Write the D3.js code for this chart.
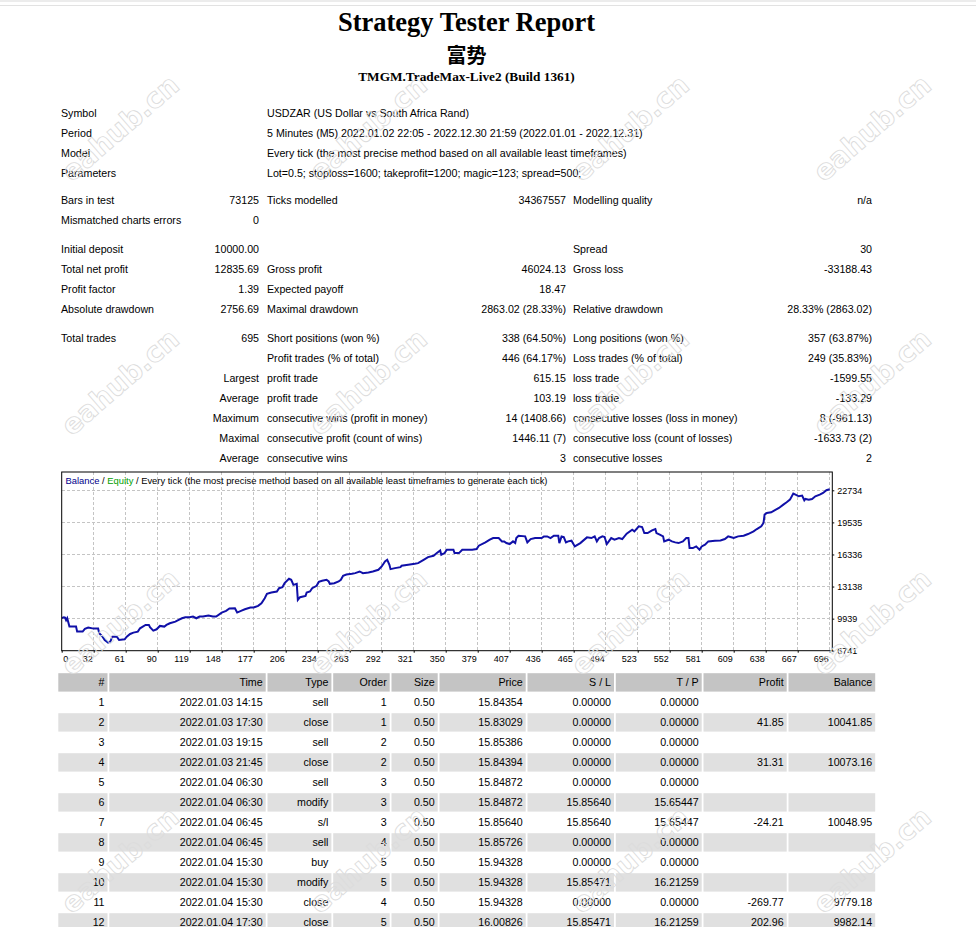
<!DOCTYPE html>
<html>
<head>
<meta charset="utf-8">
<script src="https://cdn.jsdelivr.net/npm/d3@7"></script>
<style>
  body { margin: 0; background: #fff; }
  svg { display: block; }
</style>
</head>
<body>
<div id="page"></div>
<script>
// ---------- data ----------
const reportTitle = "Strategy Tester Report";
const eaName = "富势";
const serverName = "TMGM.TradeMax-Live2 (Build 1361)";

const infoRows = [
  ["Symbol", "", "USDZAR (US Dollar vs South Africa Rand)"],
  ["Period", "", "5 Minutes (M5) 2022.01.02 22:05 - 2022.12.30 21:59 (2022.01.01 - 2022.12.31)"],
  ["Model", "", "Every tick (the most precise method based on all available least timeframes)"],
  ["Parameters", "", "Lot=0.5; stoploss=1600; takeprofit=1200; magic=123; spread=500;"]
];
const testRows = [
  ["Bars in test", "73125", "Ticks modelled", "34367557", "Modelling quality", "n/a"],
  ["Mismatched charts errors", "0", "", "", "", ""]
];
const moneyRows = [
  ["Initial deposit", "10000.00", "", "", "Spread", "30"],
  ["Total net profit", "12835.69", "Gross profit", "46024.13", "Gross loss", "-33188.43"],
  ["Profit factor", "1.39", "Expected payoff", "18.47", "", ""],
  ["Absolute drawdown", "2756.69", "Maximal drawdown", "2863.02 (28.33%)", "Relative drawdown", "28.33% (2863.02)"]
];
const tradeStatRows = [
  ["Total trades", "695", "Short positions (won %)", "338 (64.50%)", "Long positions (won %)", "357 (63.87%)"],
  ["", "", "Profit trades (% of total)", "446 (64.17%)", "Loss trades (% of total)", "249 (35.83%)"],
  ["", "Largest", "profit trade", "615.15", "loss trade", "-1599.55"],
  ["", "Average", "profit trade", "103.19", "loss trade", "-133.29"],
  ["", "Maximum", "consecutive wins (profit in money)", "14 (1408.66)", "consecutive losses (loss in money)", "8 (-961.13)"],
  ["", "Maximal", "consecutive profit (count of wins)", "1446.11 (7)", "consecutive loss (count of losses)", "-1633.73 (2)"],
  ["", "Average", "consecutive wins", "3", "consecutive losses", "2"]
];

const chartTitleParts = ["Balance", " / ", "Equity", " / Every tick (the most precise method based on all available least timeframes to generate each tick)"];
const xTickLabels = [0, 32, 61, 90, 119, 148, 177, 206, 234, 263, 292, 321, 350, 379, 407, 436, 465, 494, 523, 552, 581, 609, 638, 667, 696];
const yTickValues = [6741, 9939, 13138, 16336, 19535, 22734];

// balance after trade N
const balanceTrade = [0, 1, 2, 3, 4, 5, 7, 13, 14, 19, 21, 24, 29, 33, 34, 37, 39, 42, 44, 46, 50, 52, 57, 59, 62, 65, 69, 71, 76, 79, 80, 83, 86, 89, 93, 95, 98, 103, 106, 109, 112, 116, 119, 122, 125, 128, 133, 137, 140, 145, 149, 152, 157, 159, 163, 166, 171, 174, 178, 181, 184, 186, 190, 195, 197, 200, 202, 206, 208, 210, 213, 214, 216, 221, 222, 225, 227, 231, 233, 236, 240, 242, 243, 247, 251, 253, 255, 258, 263, 266, 270, 273, 278, 282, 287, 290, 293, 295, 297, 298, 302, 307, 308, 314, 320, 323, 328, 332, 337, 340, 343, 344, 347, 349, 355, 356, 360, 363, 367, 372, 376, 378, 384, 388, 391, 396, 399, 401, 403, 406, 409, 411, 412, 414, 420, 422, 425, 429, 435, 437, 440, 443, 446, 450, 451, 453, 455, 457, 459, 462, 465, 470, 476, 480, 483, 485, 487, 490, 492, 494, 498, 501, 505, 508, 512, 517, 519, 523, 526, 528, 531, 535, 538, 539, 542, 545, 546, 550, 553, 556, 559, 563, 566, 568, 569, 572, 575, 578, 580, 583, 586, 592, 597, 601, 604, 606, 609, 613, 618, 622, 627, 630, 634, 636, 637, 639, 643, 646, 650, 654, 657, 660, 663, 665, 668, 671, 673, 674, 677, 680, 683, 687, 690, 693, 696];
const balanceValue = [10000, 10042, 10073, 10049, 9779, 9982, 9143, 9143, 8644, 8644, 8910, 9043, 8943, 8943, 8477, 8144, 7811, 7544, 7644, 8144, 8144, 7811, 7877, 8144, 8410, 8544, 8644, 8977, 9310, 9310, 9077, 8744, 8877, 9210, 9143, 9310, 9477, 9643, 9810, 9976, 10076, 10076, 10143, 9976, 10143, 10143, 10243, 10143, 10143, 10543, 10709, 10943, 10976, 10543, 10743, 10876, 11043, 11043, 11209, 11476, 11976, 12409, 12542, 12642, 12975, 13075, 13475, 13908, 13808, 13308, 13408, 11809, 12076, 12209, 12542, 12642, 12975, 13208, 13600, 13708, 13808, 13642, 13408, 13475, 13642, 13808, 14208, 14341, 14408, 14475, 14641, 14475, 14541, 14641, 14808, 15141, 15641, 15807, 15308, 14874, 14974, 15074, 15208, 15308, 15408, 15474, 15807, 16074, 16207, 16474, 16740, 16307, 16474, 16807, 16807, 16474, 16474, 16807, 16807, 16807, 16874, 17207, 17540, 17807, 17973, 17973, 17640, 17640, 17473, 17373, 17640, 17473, 17973, 18206, 18140, 17540, 17873, 17973, 17973, 18140, 18140, 17973, 18206, 18206, 17473, 18140, 18073, 17540, 17640, 17707, 17140, 17473, 18040, 17973, 18140, 17640, 17973, 18140, 18073, 17373, 17973, 17807, 17973, 17873, 18406, 18806, 18640, 19139, 19073, 18473, 18473, 18740, 18873, 18473, 18306, 18140, 17640, 17807, 17640, 17540, 17473, 17640, 17973, 17973, 16974, 16974, 17140, 16807, 17140, 17307, 17640, 17707, 17740, 17873, 18140, 18073, 17973, 18140, 18206, 18373, 18640, 18873, 19139, 19473, 20306, 20472, 20539, 20739, 20972, 21305, 21538, 21805, 22405, 22305, 22138, 22205, 21738, 21872, 21805, 21872, 22138, 22305, 22471, 22738, 22836];

const tradeHeaders = ["#", "Time", "Type", "Order", "Size", "Price", "S / L", "T / P", "Profit", "Balance"];
const dealNo = ["1", "2", "3", "4", "5", "6", "7", "8", "9", "10", "11", "12"];
const dealTime = ["2022.01.03 14:15", "2022.01.03 17:30", "2022.01.03 19:15", "2022.01.03 21:45", "2022.01.04 06:30", "2022.01.04 06:30", "2022.01.04 06:45", "2022.01.04 06:45", "2022.01.04 15:30", "2022.01.04 15:30", "2022.01.04 15:30", "2022.01.04 17:30"];
const dealType = ["sell", "close", "sell", "close", "sell", "modify", "s/l", "sell", "buy", "modify", "close", "close"];
const dealOrder = ["1", "1", "2", "2", "3", "3", "3", "4", "5", "5", "4", "5"];
const dealSize = ["0.50", "0.50", "0.50", "0.50", "0.50", "0.50", "0.50", "0.50", "0.50", "0.50", "0.50", "0.50"];
const dealPrice = ["15.84354", "15.83029", "15.85386", "15.84394", "15.84872", "15.84872", "15.85640", "15.85726", "15.94328", "15.94328", "15.94328", "16.00826"];
const dealSL = ["0.00000", "0.00000", "0.00000", "0.00000", "0.00000", "15.85640", "15.85640", "0.00000", "0.00000", "15.85471", "0.00000", "15.85471"];
const dealTP = ["0.00000", "0.00000", "0.00000", "0.00000", "0.00000", "15.65447", "15.65447", "0.00000", "0.00000", "16.21259", "0.00000", "16.21259"];
const dealProfit = ["", "41.85", "", "31.31", "", "", "-24.21", "", "", "", "-269.77", "202.96"];
const dealBalance = ["", "10041.85", "", "10073.16", "", "", "10048.95", "", "", "", "9779.18", "9982.14"];

// ---------- page ----------
const W = 976, H = 927;
const SANS = "'Liberation Sans', Arial, sans-serif";
const SERIF = "'Liberation Serif', 'Times New Roman', serif";

const svg = d3.select("#page").append("svg")
  .attr("width", W).attr("height", H)
  .attr("viewBox", `0 0 ${W} ${H}`);

svg.append("rect").attr("width", W).attr("height", H).attr("fill", "#fff");
svg.append("rect").attr("width", W).attr("height", 2).attr("fill", "#ececec");
svg.append("line").attr("x1", 0).attr("x2", W).attr("y1", 5.5).attr("y2", 5.5)
  .attr("stroke", "#e2e2e2").attr("stroke-width", 1);

// header
const head = svg.append("g").attr("text-anchor", "middle").attr("fill", "#000");
head.append("text").attr("x", 466.5).attr("y", 31)
  .style("font-family", SERIF).style("font-size", "26.5px").style("font-weight", "bold")
  .text(reportTitle);
head.append("text").attr("x", 466.5).attr("y", 63)
  .style("font-family", "'Noto Sans CJK SC', sans-serif").style("font-size", "20px").style("font-weight", "bold")
  .text(eaName);
head.append("text").attr("x", 466.5).attr("y", 81)
  .style("font-family", SERIF).style("font-size", "13.3px").style("font-weight", "bold")
  .text(serverName);

// summary
const colX = [61, 259, 267, 566, 573, 872];
const colAnchor = ["start", "end", "start", "end", "start", "end"];
const summary = svg.append("g")
  .style("font-family", SANS).style("font-size", "10.67px").attr("fill", "#000");

function drawRows(rows, top) {
  rows.forEach((cells, r) => {
    cells.forEach((txt, c) => {
      if (!txt) return;
      summary.append("text")
        .attr("x", colX[c])
        .attr("y", top + r * 20 + 4)
        .attr("text-anchor", colAnchor[c])
        .text(txt);
    });
  });
}
drawRows(infoRows, 113);
drawRows(testRows, 200);
drawRows(moneyRows, 249);
drawRows(tradeStatRows, 338);

// ---------- balance chart ----------
const X0 = 61.7, X1 = 832.3, Y0 = 472, Y1 = 650.7;
const xGrid = d3.scaleLinear().domain([0, xTickLabels.length - 1]).range([61.7, 829.7]);
const xTrade = d3.scaleLinear().domain([0, 696]).range([61.7, 829.7]);
const y = d3.scaleLinear().domain([yTickValues[0], yTickValues[yTickValues.length - 1]]).range([Y1, 490.3]);

const chart = svg.append("g");

chart.append("g").selectAll("line")
  .data(d3.range(1, xTickLabels.length))
  .join("line")
  .attr("x1", d => xGrid(d)).attr("x2", d => xGrid(d))
  .attr("y1", Y0).attr("y2", Y1)
  .attr("stroke", "#c4c4c4").attr("stroke-dasharray", "3,2").attr("shape-rendering", "crispEdges");

chart.append("g").selectAll("line")
  .data(yTickValues.slice(1))
  .join("line")
  .attr("x1", X0).attr("x2", X1)
  .attr("y1", d => y(d)).attr("y2", d => y(d))
  .attr("stroke", "#c4c4c4").attr("stroke-dasharray", "3,2").attr("shape-rendering", "crispEdges");

// chart caption
const partColors = ["#00008b", "#000", "#00a000", "#000"];
const caption = chart.append("text")
  .attr("x", 65.5).attr("y", 484)
  .attr("textLength", 482).attr("lengthAdjust", "spacingAndGlyphs")
  .style("font-family", SANS).style("font-size", "9px");
chartTitleParts.forEach((p, i) => caption.append("tspan").attr("fill", partColors[i]).text(p));

chart.append("clipPath").attr("id", "plotClip")
  .append("rect").attr("x", X0).attr("y", Y0).attr("width", X1 - X0).attr("height", Y1 - Y0);

const balance = balanceTrade.map((t, i) => ({ t, v: balanceValue[i] }));
chart.append("path")
  .datum(balance)
  .attr("clip-path", "url(#plotClip)")
  .attr("fill", "none")
  .attr("stroke", "#1010a8")
  .attr("stroke-width", 2)
  .attr("stroke-linejoin", "miter")
  .attr("d", d3.line().x(d => xTrade(d.t)).y(d => y(d.v)));

chart.append("rect")
  .attr("x", X0).attr("y", Y0).attr("width", X1 - X0).attr("height", Y1 - Y0)
  .attr("fill", "none").attr("stroke", "#000").attr("stroke-width", 1);

const xAxis = chart.append("g")
  .attr("transform", `translate(0,${Y1})`)
  .call(d3.axisBottom(xGrid)
    .tickValues(d3.range(xTickLabels.length))
    .tickFormat(i => xTickLabels[i])
    .tickSize(2).tickPadding(3));
// labels sit just left of their grid line, the first one just right of it
xAxis.selectAll(".tick text")
  .attr("text-anchor", (d, i) => i === 0 ? "start" : "end")
  .attr("x", (d, i) => i === 0 ? 1 : -1.5);

const yAxis = chart.append("g")
  .attr("transform", `translate(${X1},0)`)
  .call(d3.axisRight(y).tickValues(yTickValues).tickFormat(d3.format("d")).tickSize(2).tickPadding(3));
[xAxis, yAxis].forEach(a => {
  a.select(".domain").remove();
  a.selectAll("text").style("font-family", SANS).style("font-size", "9px").attr("fill", "#000");
  a.selectAll("line").attr("stroke", "#000");
});

// ---------- deals table ----------
const bounds = [57.3, 108.3, 266.5, 332.2, 390.5, 438.5, 526.5, 614.8, 702.5, 787.5, 876];
const tableCols = [dealNo, dealTime, dealType, dealOrder, dealSize, dealPrice, dealSL, dealTP, dealProfit, dealBalance];
const rowY = d3.scaleBand().domain(d3.range(dealNo.length + 1)).range([672.4, 672.4 + 20 * (dealNo.length + 1)]).paddingInner(0.08).paddingOuter(0.04);

const table = svg.append("g").style("font-family", SANS).style("font-size", "10.67px");
d3.range(dealNo.length + 1).forEach(r => {
  const fill = r === 0 ? "#c4c4c4" : (r % 2 === 0 ? "#e0e0e0" : "#fff");
  tradeHeaders.forEach((h, c) => {
    const xl = bounds[c] + 1, xr = bounds[c + 1] - 0.8;
    table.append("rect")
      .attr("x", xl).attr("y", rowY(r)).attr("width", xr - xl).attr("height", rowY.bandwidth())
      .attr("fill", fill);
    const txt = r === 0 ? h : tableCols[c][r - 1];
    if (txt) {
      table.append("text")
        .attr("x", xr - 3)
        .attr("y", rowY(r) + rowY.bandwidth() / 2 + 4)
        .attr("text-anchor", "end")
        .attr("fill", "#000")
        .text(txt);
    }
  });
});

// ---------- watermark ----------
const wmX = [120, 368, 630, 872];
const wmY = [128, 382, 622, 860];
const wm = svg.append("g").attr("pointer-events", "none");
wmY.forEach(cy => wmX.forEach(cx => {
  wm.append("text")
    .attr("transform", `translate(${cx},${cy}) rotate(-41)`)
    .attr("text-anchor", "middle").attr("dy", "0.35em")
    .style("font-family", "'DejaVu Sans', sans-serif").style("font-size", "28px").style("font-weight", "bold")
    .attr("fill", "none").attr("stroke", "#dcdcdc").attr("stroke-width", 0.9)
    .text("eahub.cn");
}));
</script>
</body>
</html>
